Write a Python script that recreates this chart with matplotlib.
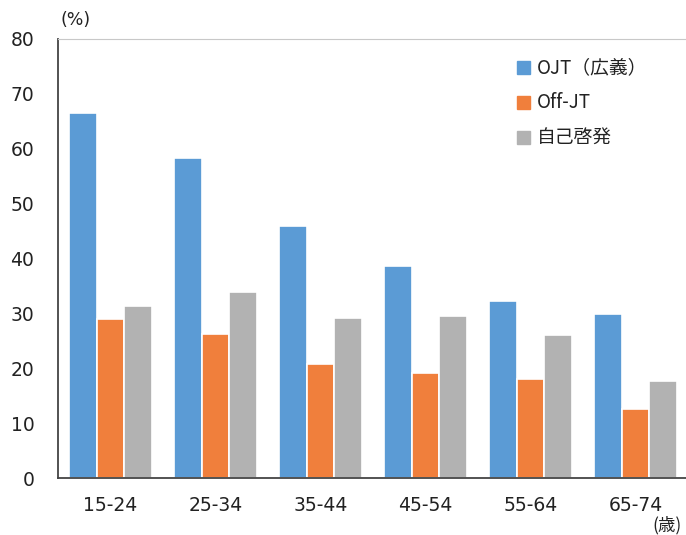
import matplotlib.pyplot as plt
import numpy as np

plt.rcParams['font.family'] = ['DejaVu Sans', 'Noto Sans CJK JP']

ages = ['15-24', '25-34', '35-44', '45-54', '55-64', '65-74']
ojt = [66.6, 58.4, 45.9, 38.7, 32.3, 29.8]
off_jt = [28.9, 26.3, 20.7, 19.1, 18.0, 12.5]
self_dev = [31.4, 33.9, 29.2, 29.6, 26.1, 17.6]
series_names = ['OJT（広義）', 'Off-JT', '自己啓発']
colors = ['#5b9bd5', '#f07f3c', '#b2b2b2']

fig = plt.figure(figsize=(6.86, 5.35), dpi=100)
ax = fig.add_axes([58 / 686, 57 / 535, 630 / 686, 439 / 535])

x = np.arange(len(ages))
w = 0.265
for i, (vals, c) in enumerate(zip([ojt, off_jt, self_dev], colors)):
    ax.bar(x + (i - 1) * w, vals, width=w, color=c, edgecolor='white', linewidth=1.2)

ax.set_xlim(-0.5, 5.5)
ax.set_ylim(0, 80)
ax.set_yticks(range(0, 81, 10))
ax.set_xticks(x)
ax.set_xticklabels(ages)
ax.tick_params(length=0, labelsize=13.5, colors='#222222')
ax.tick_params(axis='y', pad=17)
ax.tick_params(axis='x', pad=13)

ax.spines['left'].set_color('#444444')
ax.spines['bottom'].set_color('#444444')
ax.spines['left'].set_linewidth(1.3)
ax.spines['bottom'].set_linewidth(1.3)
ax.spines['top'].set_color('#c8c8c8')
ax.spines['right'].set_visible(False)

fig.text(60 / 686, 1 - 20 / 535, '(%)', fontsize=12.5, va='center', ha='left', color='#222222')
fig.text(682 / 686, 1 - 525 / 535, '(歳)', fontsize=12.5, va='center', ha='right',
         color='#222222', family=['Noto Sans CJK JP'])

for i, (name, c) in enumerate(zip(series_names, colors)):
    yy = 68 + i * 35
    fig.patches.append(plt.Rectangle((517 / 686, 1 - (yy + 6) / 535), 13 / 686, 13 / 535,
                                     transform=fig.transFigure, color=c, figure=fig))
    fig.text(537 / 686, 1 - yy / 535, name, fontsize=13.5, va='center', ha='left',
             color='#222222', family=['Noto Sans CJK JP', 'DejaVu Sans'])

fig.savefig('out.png', dpi=100)
